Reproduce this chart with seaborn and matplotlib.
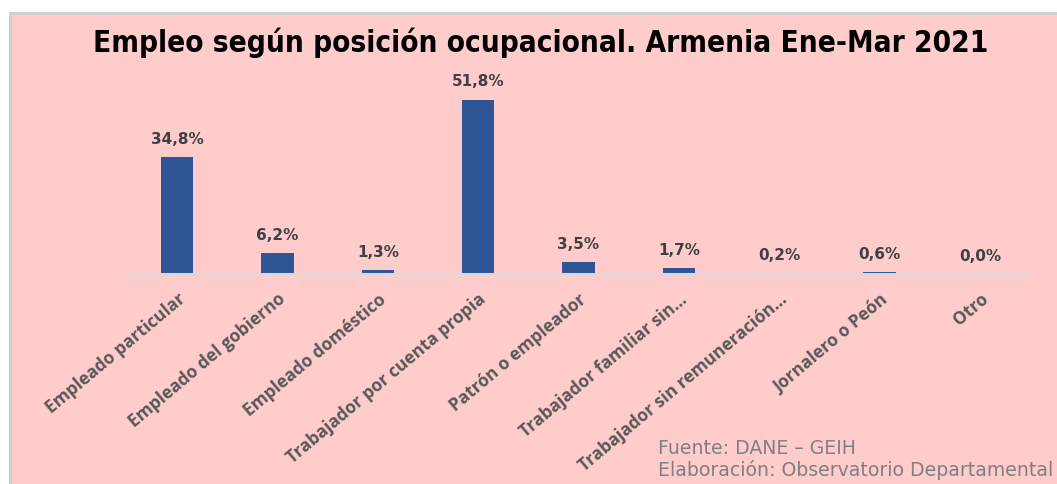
import matplotlib
matplotlib.use("Agg")
import matplotlib.pyplot as plt
import pandas as pd
import seaborn as sns
from matplotlib.patches import Rectangle

categorias = [
    "Empleado particular",
    "Empleado del gobierno",
    "Empleado doméstico",
    "Trabajador por cuenta propia",
    "Patrón o empleador",
    "Trabajador familiar sin…",
    "Trabajador sin remuneración…",
    "Jornalero o Peón",
    "Otro",
]
porcentajes = [34.8, 6.2, 1.3, 51.8, 3.5, 1.7, 0.2, 0.6, 0.0]
etiquetas = ["34,8%", "6,2%", "1,3%", "51,8%", "3,5%", "1,7%", "0,2%", "0,6%", "0,0%"]

titulo = "Empleo según posición ocupacional. Armenia Ene-Mar 2021"
fuente = "Fuente: DANE – GEIH\nElaboración: Observatorio Departamental"

df = pd.DataFrame({"Posicion": categorias, "Porcentaje": porcentajes})

sns.set_theme(style="white")
plt.rcParams["font.family"] = ["Open Sans", "DejaVu Sans"]

fondo = "#FFCCCC"
fig = plt.figure(figsize=(10.57, 4.85), dpi=100)
fig.patch.set_facecolor("white")
# marco del grafico (borde gris + fondo rosado)
fig.patches.append(Rectangle((9 / 1057, 0), 1 - 9 / 1057, 1 - 13 / 485,
                             transform=fig.transFigure, facecolor="#D0D0D0",
                             edgecolor="none", zorder=-10))
fig.patches.append(Rectangle((12 / 1057, 0), 1 - 12 / 1057, 1 - 16 / 485,
                             transform=fig.transFigure, facecolor=fondo,
                             edgecolor="none", zorder=-9))

ax = fig.add_axes([127 / 1057, 1 - 275 / 485, 903 / 1057, 202 / 485])
ax.set_facecolor("none")
sns.barplot(data=df, x="Posicion", y="Porcentaje", color="#2F5597",
            width=0.32, saturation=1, linewidth=0, ax=ax)
ax.set_xlim(-0.5, len(categorias) - 0.5)
ax.set_ylim(0, 60)

for i, (v, t) in enumerate(zip(porcentajes, etiquetas)):
    ax.annotate(t, (i, v), xytext=(0, 8), textcoords="offset points",
                ha="center", va="bottom", fontsize=11, fontweight="bold",
                color="#404040", family=["DejaVu Sans"])

for s in ["top", "right", "left"]:
    ax.spines[s].set_visible(False)
ax.spines["bottom"].set_color("#D9D9D9")
ax.spines["bottom"].set_linewidth(1.5)
ax.set_yticks([])
ax.set_xlabel("")
ax.set_ylabel("")
ax.tick_params(axis="x", length=0, pad=11)
ax.set_xticks(range(len(categorias)))
ax.set_xticklabels(categorias, rotation=40, ha="right", rotation_mode="anchor",
                   fontsize=12.5, fontweight="bold", fontstretch="normal",
                   color="#595959")

fig.text(0.512, 1 - 43 / 485, titulo, ha="center", va="center", fontsize=21.3,
         fontweight="bold", fontstretch="condensed", color="black",
         family=["DejaVu Sans"])
fig.text(658 / 1057, 1 - 480 / 485, fuente, ha="left", va="bottom",
         fontsize=13.6, color="#808080", linespacing=1.15,
         family=["DejaVu Sans"])

fig.savefig("out.png", dpi=100, facecolor=fig.get_facecolor())
